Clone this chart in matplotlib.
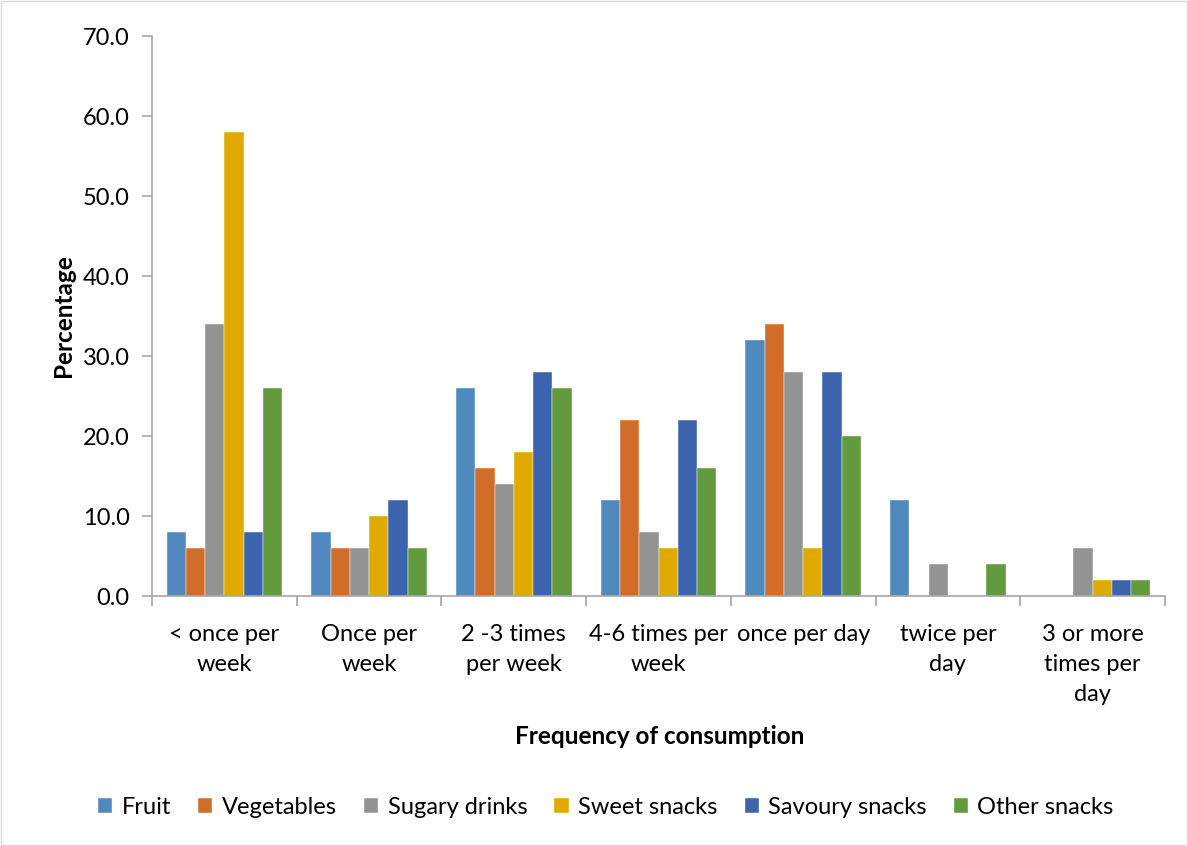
import matplotlib.pyplot as plt
import numpy as np
from matplotlib.patches import Rectangle

plt.rcParams['font.family'] = ['Lato', 'DejaVu Sans']

categories = ['< once per\nweek', 'Once per\nweek', '2 -3 times\nper week',
              '4-6 times per\nweek', 'once per day', 'twice per\nday',
              '3 or more\ntimes per\nday']
series = ['Fruit', 'Vegetables', 'Sugary drinks', 'Sweet snacks',
          'Savoury snacks', 'Other snacks']
fruit = [8, 8, 26, 12, 32, 12, 0]
vegetables = [6, 6, 16, 22, 34, 0, 0]
sugary_drinks = [34, 6, 14, 8, 28, 4, 6]
sweet_snacks = [58, 10, 18, 6, 6, 0, 2]
savoury_snacks = [8, 12, 28, 22, 28, 0, 2]
other_snacks = [26, 6, 26, 16, 20, 4, 2]
colors = ['#4F89BD', '#D26D29', '#939393', '#E0AA00', '#3C64AD', '#629A3D']

values = [fruit, vegetables, sugary_drinks, sweet_snacks, savoury_snacks, other_snacks]

fig = plt.figure(figsize=(11.88, 8.46), dpi=100)
ax = fig.add_axes([0.128, 0.2955, 0.8526, 0.6619])

x = np.arange(len(categories))
w = 0.8 / len(series)
for i, (name, vals) in enumerate(zip(series, values)):
    ax.bar(x - 0.4 + w * (i + 0.5), vals, w, color=colors[i], label=name,
           edgecolor='white', linewidth=0.3)

ax.set_xlim(-0.5, len(categories) - 0.5)
ax.set_ylim(0, 70)
ax.set_yticks(np.arange(0, 71, 10))
ax.set_yticklabels([f'{v:.1f}' for v in np.arange(0, 71, 10)], fontsize=17)
ax.set_xticks(x)
ax.set_xticklabels(categories, fontsize=17, linespacing=1.55, va='top')
ax.set_xticks(np.arange(-0.5, len(categories)), minor=True)
ax.tick_params(axis='x', which='major', length=0, pad=20)
ax.tick_params(axis='x', which='minor', length=7, color='#A6A6A6', width=1.2)
ax.tick_params(axis='y', length=7, color='#A6A6A6', width=1.2, pad=9)

for s in ['top', 'right']:
    ax.spines[s].set_visible(False)
for s in ['left', 'bottom']:
    ax.spines[s].set_color('#A6A6A6')
    ax.spines[s].set_linewidth(1.2)

ax.set_ylabel('Percentage', fontsize=17.5, fontweight='bold', labelpad=6)
fig.text(0.555, 0.13, 'Frequency of consumption', fontsize=17.5,
         fontweight='bold', ha='center', va='center')

fig.legend(loc='center', bbox_to_anchor=(0.51, 0.046), ncol=6, frameon=False,
           fontsize=17, handlelength=0.6, handleheight=0.6, handletextpad=0.4,
           columnspacing=1.15)

fig.patches.append(Rectangle((0.001, 0.001), 0.998, 0.998, transform=fig.transFigure,
                             fill=False, edgecolor='#D9D9D9', linewidth=1))

fig.savefig('out.png', dpi=100)
